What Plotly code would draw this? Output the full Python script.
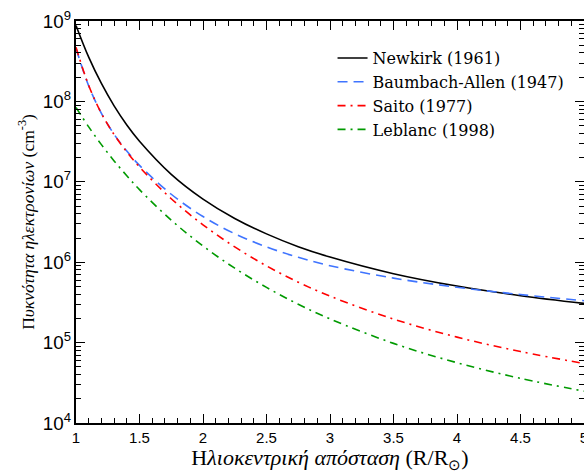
import plotly.graph_objects as go

# Heliocentric distance (R/R_sun)
r = [1.0, 1.1, 1.2, 1.3, 1.4, 1.5, 1.75, 2.0, 2.25, 2.5, 2.75, 3.0, 3.5, 4.0, 4.5, 5.0]

# Electron density (cm^-3)
newkirk = [8.8e8, 3.55e8, 1.67e8, 8.8e7, 5.1e7, 3.2e7, 1.24e7, 6.1e6, 3.5e6, 2.25e6,
           1.56e6, 1.16e6, 7.2e5, 5.05e5, 3.83e5, 3.07e5]
baumbach = [4.58e8, 1.56e8, 7.1e7, 3.9e7, 2.41e7, 1.60e7, 7.0e6, 3.7e6, 2.26e6, 1.55e6,
            1.15e6, 9.05e5, 6.34e5, 4.88e5, 3.96e5, 3.32e5]
saito = [4.7e8, 1.58e8, 7.1e7, 3.87e7, 2.35e7, 1.53e7, 6.16e6, 2.92e6, 1.55e6, 9.0e5,
         5.64e5, 3.78e5, 1.96e5, 1.17e5, 7.74e4, 5.5e4]
leblanc = [8.4e7, 4.82e7, 2.90e7, 1.82e7, 1.19e7, 7.98e6, 3.33e6, 1.59e6, 8.42e5, 4.86e5,
           3.0e5, 1.97e5, 9.78e4, 5.62e4, 3.59e4, 2.49e4]

names = ["Newkirk (1961)", "Baumbach-Allen (1947)", "Saito (1977)", "Leblanc (1998)"]
series = [newkirk, baumbach, saito, leblanc]
colors = ["#000000", "#3f74ff", "#ff0000", "#009a00"]
dashes = ["solid", "10px,6px", "8px,5px,2px,5px", "8px,5px,2px,5px"]
widths = [1.6, 1.6, 1.6, 1.6]

fig = go.Figure()
for name, ys, c, d, w in zip(names, series, colors, dashes, widths):
    fig.add_trace(go.Scatter(x=r, y=ys, mode="lines", name=name,
                             line=dict(color=c, dash=d, width=w, shape="spline")))

serif = "DejaVu Serif"
title_serif = "Liberation Serif"
sans = "Liberation Sans"
pad = "\u00a0" * 5

fig.update_layout(
    width=584, height=473,
    margin=dict(l=76, r=0, t=21, b=50),
    paper_bgcolor="white", plot_bgcolor="white",
    showlegend=True,
    legend=dict(x=0.505, y=0.95, xanchor="left", yanchor="top",
                font=dict(family=serif, size=16, color="black"),
                bgcolor="rgba(0,0,0,0)", borderwidth=0, tracegroupgap=0),
    xaxis=dict(range=[1, 5], dtick=0.5, tick0=1, automargin=False,
               ticklabeloverflow="allow",
               ticks="inside", ticklen=9, tickwidth=1.2, tickcolor="black",
               mirror="allticks", showline=True, linewidth=2, linecolor="black",
               showgrid=False, zeroline=False,
               tickfont=dict(family=sans, size=15, color="black"),
               minor=dict(dtick=0.1, ticks="inside", ticklen=5, tickwidth=1, tickcolor="black", showgrid=False),
               title=dict(text="Η<i>λιοκεντρική απόσταση</i> (R/R<sub>⊙</sub>)",
                          font=dict(family=title_serif, size=22, color="black"), standoff=3)),
    yaxis=dict(type="log", range=[4, 9], dtick=1, exponentformat="power", automargin=False,
               ticklabeloverflow="allow",
               ticks="inside", ticklen=9, tickwidth=1.2, tickcolor="black",
               mirror="allticks", showline=True, linewidth=2, linecolor="black",
               showgrid=False, zeroline=False,
               tickfont=dict(family=sans, size=15, color="black"),
               minor=dict(dtick="D1", ticks="inside", ticklen=5, tickwidth=1, tickcolor="black", showgrid=False),
               title=dict(text=pad + "Π<i>υκνότητα ηλεκτρονίων</i> (cm<sup>-3</sup>)",
                          font=dict(family=title_serif, size=17.5, color="black"), standoff=4)),
)

# remove the default page margin so the figure fills the window exactly
fig.write_html("out.html", config={"displayModeBar": False},
               post_script="document.body.style.margin='0';document.body.style.overflow='hidden';")
